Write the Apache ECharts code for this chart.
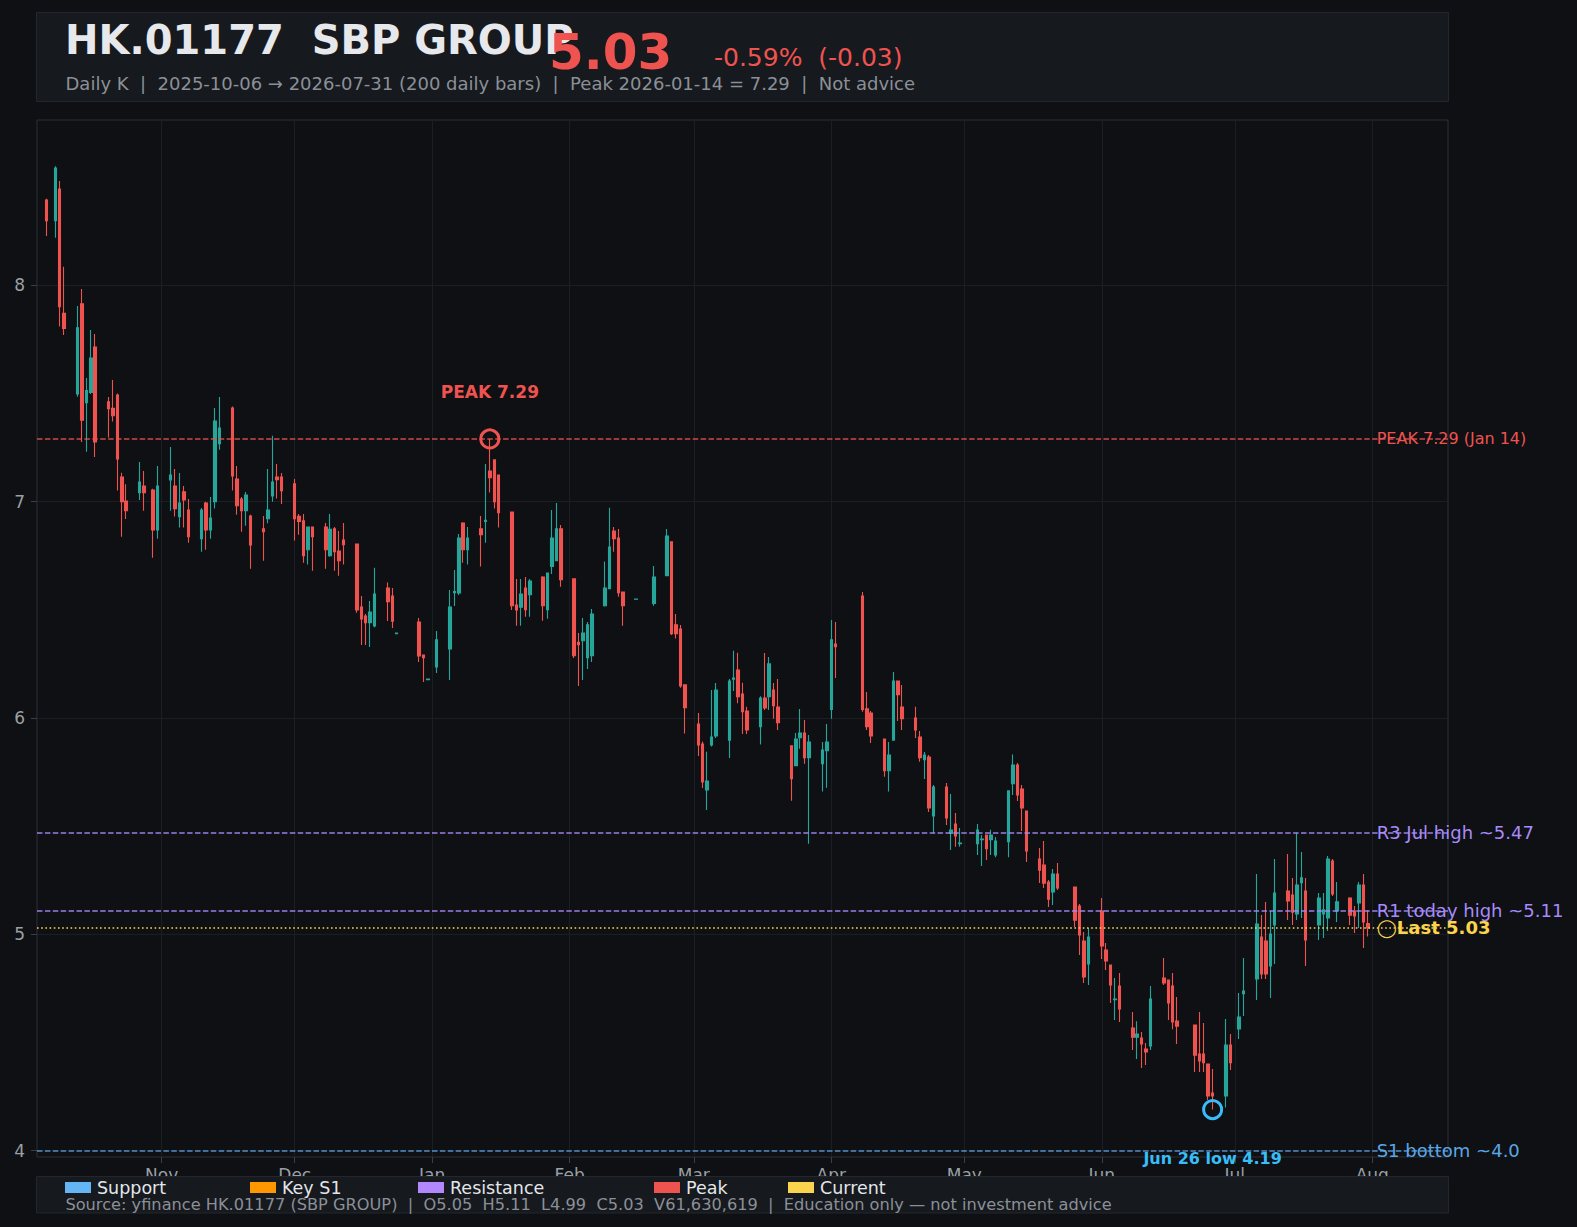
<!DOCTYPE html>
<html><head><meta charset="utf-8">
<script src="https://cdn.jsdelivr.net/npm/echarts@6/dist/echarts.min.js"></script>
<style>html,body{margin:0;padding:0;background:#0e1013;}#c{width:1577px;height:1227px;}</style>
</head><body><div id="c"></div>
<script>
const dates = [
'2025-10-06','2025-10-08','2025-10-09','2025-10-10','2025-10-13','2025-10-14','2025-10-15','2025-10-16','2025-10-17','2025-10-20','2025-10-21','2025-10-22','2025-10-23','2025-10-24','2025-10-27','2025-10-28','2025-10-30','2025-10-31',
'2025-11-03','2025-11-04','2025-11-05','2025-11-06','2025-11-07','2025-11-10','2025-11-11','2025-11-12','2025-11-13','2025-11-14','2025-11-17','2025-11-18','2025-11-19','2025-11-20','2025-11-21','2025-11-24','2025-11-25','2025-11-26','2025-11-27','2025-11-28',
'2025-12-01','2025-12-02','2025-12-03','2025-12-04','2025-12-05','2025-12-08','2025-12-09','2025-12-10','2025-12-11','2025-12-12','2025-12-15','2025-12-16','2025-12-17','2025-12-18','2025-12-19','2025-12-22','2025-12-23','2025-12-24','2025-12-29','2025-12-30','2025-12-31',
'2026-01-02','2026-01-05','2026-01-06','2026-01-07','2026-01-08','2026-01-09','2026-01-12','2026-01-13','2026-01-14','2026-01-15','2026-01-16','2026-01-19','2026-01-20','2026-01-21','2026-01-22','2026-01-23','2026-01-26','2026-01-27','2026-01-28','2026-01-29','2026-01-30',
'2026-02-02','2026-02-03','2026-02-04','2026-02-05','2026-02-06','2026-02-09','2026-02-10','2026-02-11','2026-02-12','2026-02-13','2026-02-16','2026-02-20','2026-02-23','2026-02-24','2026-02-25','2026-02-26','2026-02-27',
'2026-03-02','2026-03-03','2026-03-04','2026-03-05','2026-03-06','2026-03-09','2026-03-10','2026-03-11','2026-03-12','2026-03-13','2026-03-16','2026-03-17','2026-03-18','2026-03-19','2026-03-20','2026-03-23','2026-03-24','2026-03-25','2026-03-26','2026-03-27','2026-03-30','2026-03-31',
'2026-04-01','2026-04-02','2026-04-08','2026-04-09','2026-04-10','2026-04-13','2026-04-14','2026-04-15','2026-04-16','2026-04-17','2026-04-20','2026-04-21','2026-04-22','2026-04-23','2026-04-24','2026-04-27','2026-04-28','2026-04-29','2026-04-30',
'2026-05-04','2026-05-05','2026-05-06','2026-05-07','2026-05-08','2026-05-11','2026-05-12','2026-05-13','2026-05-14','2026-05-15','2026-05-18','2026-05-19','2026-05-20','2026-05-21','2026-05-22','2026-05-26','2026-05-27','2026-05-28','2026-05-29',
'2026-06-01','2026-06-02','2026-06-03','2026-06-04','2026-06-05','2026-06-08','2026-06-09','2026-06-10','2026-06-11','2026-06-12','2026-06-15','2026-06-16','2026-06-17','2026-06-18','2026-06-22','2026-06-23','2026-06-24','2026-06-25','2026-06-26','2026-06-29','2026-06-30',
'2026-07-02','2026-07-03','2026-07-06','2026-07-07','2026-07-08','2026-07-09','2026-07-10','2026-07-13','2026-07-14','2026-07-15','2026-07-16','2026-07-17','2026-07-20','2026-07-21','2026-07-22','2026-07-23','2026-07-24','2026-07-27','2026-07-28','2026-07-29','2026-07-30','2026-07-31'
];
const opens = [
8.394,8.299,8.445,7.870,7.498,7.914,7.457,7.505,7.715,7.461,7.431,7.493,7.114,7.003,7.041,7.072,7.054,6.869,
7.100,7.072,6.931,7.045,6.961,6.829,6.994,6.869,7.000,7.268,7.433,7.105,7.012,6.958,6.934,6.874,6.921,7.026,7.114,7.114,
7.082,6.932,6.911,6.778,6.883,6.883,6.750,6.874,6.772,6.823,6.804,6.513,6.471,6.441,6.425,6.601,6.564,6.390,6.444,6.291,6.177,
6.236,6.319,6.579,6.578,6.901,6.778,6.874,6.908,7.142,7.193,7.123,6.952,6.522,6.512,6.601,6.570,6.652,6.501,6.700,6.727,6.874,
6.643,6.350,6.357,6.279,6.288,6.519,6.598,6.864,6.832,6.582,6.549,6.529,6.658,6.814,6.431,6.411,6.153,
5.972,5.880,5.667,5.875,5.917,5.898,6.179,6.222,6.111,6.032,5.960,6.092,6.099,6.129,6.051,5.871,5.780,5.909,5.931,5.817,5.789,5.849,
6.039,6.342,6.564,6.042,6.023,5.903,5.756,5.898,6.171,6.051,6.000,5.912,5.807,5.820,5.547,5.681,5.467,5.510,5.419,
5.419,5.438,5.459,5.438,5.367,5.428,5.696,5.783,5.672,5.570,5.348,5.320,5.242,5.196,5.279,5.219,5.131,4.969,4.863,
5.108,4.928,4.858,4.698,4.761,4.567,4.525,4.521,4.470,4.484,4.798,4.789,4.761,4.599,4.581,4.447,4.447,4.401,4.267,4.253,4.488,
4.563,4.726,4.794,4.988,4.969,4.854,5.043,5.200,5.182,5.094,5.239,5.200,5.043,5.094,5.076,5.339,5.108,5.168,5.108,5.145,5.228,5.05
];
const closes = [
8.299,8.542,7.901,7.801,7.804,7.377,7.513,7.664,7.276,7.430,7.397,7.197,7.000,6.958,7.091,7.041,6.869,7.072,
7.123,6.968,6.994,7.008,6.838,6.961,6.869,6.924,7.373,7.340,7.119,6.981,6.958,7.031,6.800,6.861,6.961,7.091,7.102,7.051,
6.921,6.908,6.750,6.883,6.838,6.778,6.872,6.769,6.727,6.801,6.499,6.458,6.441,6.490,6.573,6.538,6.448,6.393,6.287,6.279,6.180,
6.361,6.513,6.584,6.832,6.778,6.832,6.847,6.914,7.111,7.000,6.949,6.519,6.499,6.573,6.501,6.633,6.519,6.670,6.832,6.874,6.639,
6.288,6.339,6.393,6.431,6.481,6.601,6.790,6.829,6.579,6.519,6.550,6.652,6.841,6.390,6.390,6.148,6.048,
5.875,5.704,5.709,5.912,6.129,6.171,6.185,6.099,6.029,5.945,6.092,6.046,6.250,6.057,5.978,5.720,5.903,5.931,5.817,5.889,5.852,5.889,
6.361,6.330,6.039,5.960,5.917,5.756,5.829,6.171,6.108,5.997,5.945,5.817,5.829,5.584,5.681,5.538,5.482,5.455,5.422,
5.482,5.441,5.396,5.459,5.431,5.663,5.783,5.644,5.584,5.385,5.297,5.237,5.163,5.279,5.214,5.066,4.997,4.803,4.988,
4.946,4.877,4.766,4.701,4.655,4.525,4.539,4.493,4.456,4.701,4.775,4.683,4.595,4.576,4.442,4.415,4.407,4.253,4.253,4.488,4.407,
4.618,4.738,5.048,4.817,4.817,5.002,5.191,5.154,5.103,5.228,5.261,4.974,5.168,5.113,5.348,5.187,5.150,5.089,5.085,5.228,5.057,5.03
];
const lows = [
8.228,8.220,7.809,7.770,7.485,7.276,7.231,7.498,7.206,7.297,7.370,7.051,6.838,6.920,7.008,6.958,6.741,6.829,
6.958,6.931,6.880,6.880,6.810,6.769,6.778,6.829,6.968,7.240,7.051,6.940,6.861,6.889,6.690,6.727,6.900,7.000,7.015,6.989,
6.820,6.847,6.718,6.709,6.681,6.690,6.745,6.681,6.658,6.709,6.487,6.337,6.337,6.328,6.420,6.448,6.416,6.388,6.259,6.166,6.175,
6.208,6.176,6.518,6.569,6.718,6.709,6.700,6.810,7.042,6.968,6.880,6.499,6.427,6.427,6.468,6.468,6.450,6.459,6.666,6.725,6.607,
6.277,6.148,6.176,6.227,6.259,6.515,6.595,6.769,6.561,6.427,6.547,6.519,6.655,6.384,6.367,6.140,5.928,
5.824,5.676,5.575,5.868,5.908,5.815,6.125,6.068,5.926,5.926,5.877,6.037,6.037,5.997,5.945,5.618,5.778,5.858,5.789,5.419,5.660,5.678,
5.997,6.185,6.029,5.945,5.884,5.729,5.660,5.895,5.986,5.945,5.908,5.798,5.718,5.566,5.467,5.505,5.390,5.405,5.405,
5.367,5.316,5.344,5.367,5.357,5.357,5.644,5.616,5.478,5.334,5.237,5.214,5.126,5.136,5.205,5.034,4.905,4.775,4.766,
4.886,4.835,4.683,4.604,4.595,4.465,4.424,4.382,4.396,4.465,4.766,4.604,4.562,4.493,4.364,4.364,4.364,4.234,4.19,4.20,4.373,
4.516,4.623,4.697,4.794,4.794,4.706,4.863,5.066,5.043,5.066,5.076,4.854,4.974,4.983,5.016,5.177,5.057,5.043,5.006,5.029,4.937,4.99
];
const highs = [
8.400,8.550,8.482,8.086,7.904,7.983,7.572,7.793,7.775,7.484,7.562,7.500,7.134,7.081,7.183,7.142,7.060,7.165,
7.253,7.151,7.132,7.072,7.012,6.971,7.000,7.021,7.433,7.484,7.440,7.165,7.021,7.045,6.940,6.934,7.151,7.305,7.174,7.132,
7.105,6.943,6.943,6.885,6.885,6.901,6.943,6.883,6.864,6.901,6.806,6.564,6.481,6.541,6.695,6.626,6.601,6.395,6.462,6.292,6.182,
6.402,6.592,6.684,6.851,6.905,6.883,6.934,7.174,7.29,7.195,7.125,6.955,6.643,6.643,6.652,6.643,6.655,6.672,6.961,6.994,6.892,
6.645,6.393,6.462,6.444,6.504,6.723,6.972,6.883,6.874,6.585,6.552,6.703,6.874,6.816,6.481,6.430,6.155,
6.023,5.891,5.844,6.129,6.162,6.180,6.311,6.302,6.163,6.052,6.101,6.300,6.282,6.162,6.180,5.872,5.931,6.042,5.991,5.921,5.889,5.972,
6.453,6.444,6.582,6.120,6.032,5.905,5.889,6.213,6.173,6.153,6.052,5.940,5.843,5.829,5.690,5.700,5.649,5.561,5.492,
5.510,5.459,5.462,5.484,5.450,5.665,5.831,5.792,5.690,5.572,5.399,5.431,5.251,5.302,5.330,5.221,5.140,5.011,5.029,
5.168,4.960,4.860,4.798,4.821,4.641,4.599,4.549,4.498,4.761,4.891,4.791,4.821,4.710,4.583,4.641,4.590,4.403,4.378,4.609,4.539,
4.729,4.891,5.279,5.089,5.150,5.108,5.348,5.371,5.261,5.47,5.381,5.261,5.191,5.191,5.362,5.348,5.242,5.171,5.131,5.242,5.279,5.11
];
const monthTicks = ['2025-11-01','2025-12-01','2026-01-01','2026-02-01','2026-03-01','2026-04-01','2026-05-01','2026-06-01','2026-07-01','2026-08-01'];
const monthLabels = ['Nov','Dec','Jan','Feb','Mar','Apr','May','Jun','Jul','Aug'];
const yTicks = [4, 5, 6, 7, 8];
const xRange = ['2025-10-03 21:00', '2026-08-18 02:00'];
const yRange = [3.971, 8.764];
const peakPoint = ['2026-01-14', 7.29];
const lowPoint = ['2026-06-26', 4.19];
const levelLabelDate = '2026-08-02';
const peakLevel = 7.29, r3Level = 5.47, r1Level = 5.11, lastLevel = 5.03, s1Level = 4.0;
const levelTexts = ['PEAK 7.29 (Jan 14)', 'R3 Jul high ~5.47', 'R1 today high ~5.11', 'Last 5.03', 'S1 bottom ~4.0'];
const legendNames = ['Support', 'Key S1', 'Resistance', 'Peak', 'Current'];
const titleText = 'HK.01177  SBP GROUP';
const priceText = '5.03';
const changeText = '-0.59%  (-0.03)';
const subtitleText = 'Daily K  |  2025-10-06 \u2192 2026-07-31 (200 daily bars)  |  Peak 2026-01-14 = 7.29  |  Not advice';
const sourceText = 'Source: yfinance HK.01177 (SBP GROUP)  |  O5.05  H5.11  L4.99  C5.03  V61,630,619  |  Education only \u2014 not investment advice';

const FONT = 'DejaVu Sans';
const UP = '#26a69a', DOWN = '#ef5350', RED = '#ef5350', PURPLE = '#a78bfa', YELLOW = '#fcd34d', SBLUE = '#5aa6e6', LBLUE = '#38bdf8';
function ts(s) {
  const p = s.split(/[- :]/).map(Number);
  return Date.UTC(p[0], p[1] - 1, p[2], p[3] || 0, p[4] || 0);
}
const monthTs = monthTicks.map(ts);
const candleData = dates.map((d, i) => [ts(d), opens[i], closes[i], lows[i], highs[i]]);

const chart = echarts.init(document.getElementById('c'), null, {renderer: 'svg', width: 1577, height: 1227});

const labelBase = {show: true, position: 'inside', align: 'left', verticalAlign: 'middle', fontFamily: FONT, fontSize: 18};
const levelData = [
  {value: [ts(levelLabelDate), peakLevel], label: Object.assign({}, labelBase, {formatter: levelTexts[0], color: RED, fontSize: 16})},
  {value: [ts(levelLabelDate), r3Level], label: Object.assign({}, labelBase, {formatter: levelTexts[1], color: PURPLE})},
  {value: [ts(levelLabelDate), r1Level], label: Object.assign({}, labelBase, {formatter: levelTexts[2], color: PURPLE})},
  {value: [ts(levelLabelDate), lastLevel], label: Object.assign({}, labelBase, {formatter: '{c|\u25EF}' + levelTexts[3], color: YELLOW, fontWeight: 'bold', rich: {c: {fontFamily: FONT, fontSize: 18, fontWeight: 'normal', color: YELLOW}}})},
  {value: [ts(levelLabelDate), s1Level], label: Object.assign({}, labelBase, {formatter: levelTexts[4], color: SBLUE})}
];

const swatchColors = ['#64b5f6', '#ff9800', '#b388ff', '#ef5350', '#fcd34d'];
const swatchX = [65, 250, 418, 654, 788];
const graphics = [
  {type: 'rect', z: 100, shape: {x: 36.5, y: 12.5, width: 1412, height: 89}, style: {fill: '#16191d', stroke: '#23272d', lineWidth: 1}},
  {type: 'text', z: 101, x: 65, y: 40, style: {text: titleText, font: 'bold 40px "DejaVu Sans"', fill: '#e6e8eb', textAlign: 'left', textVerticalAlign: 'middle', verticalAlign: 'middle'}},
  {type: 'text', z: 102, x: 549, y: 52, style: {text: priceText, font: 'bold 50px "DejaVu Sans"', fill: RED, textAlign: 'left', textVerticalAlign: 'middle', verticalAlign: 'middle'}},
  {type: 'text', z: 102, x: 714, y: 57, style: {text: changeText, font: '25px "DejaVu Sans"', fill: RED, textAlign: 'left', textVerticalAlign: 'middle', verticalAlign: 'middle'}},
  {type: 'text', z: 101, x: 65.5, y: 83, style: {text: subtitleText, font: '18px "DejaVu Sans"', fill: '#8b9098', textAlign: 'left', textVerticalAlign: 'middle', verticalAlign: 'middle'}},
  {type: 'rect', z: 100, shape: {x: 36.5, y: 1176.5, width: 1412, height: 36.5}, style: {fill: '#16191d', stroke: '#23272d', lineWidth: 1}},
  {type: 'text', z: 101, x: 65.4, y: 1204.5, style: {text: sourceText, font: '16.2px "DejaVu Sans"', fill: '#8b9098', textAlign: 'left', textVerticalAlign: 'middle', verticalAlign: 'middle'}}
];
legendNames.forEach((n, i) => {
  graphics.push({type: 'rect', z: 101, shape: {x: swatchX[i], y: 1182, width: 26, height: 11}, style: {fill: swatchColors[i]}});
  graphics.push({type: 'text', z: 101, x: swatchX[i] + 32, y: 1187.5, style: {text: n, font: '17.5px "DejaVu Sans"', fill: '#e3e6ea', textAlign: 'left', textVerticalAlign: 'middle', verticalAlign: 'middle'}});
});

const option = {
  backgroundColor: '#0e1013',
  animation: false,
  textStyle: {fontFamily: FONT},
  grid: {left: 37, right: 129, top: 120, bottom: 70, show: true, borderColor: '#2a2e34', borderWidth: 1, backgroundColor: 'transparent', containLabel: false},
  xAxis: {
    type: 'value', min: ts(xRange[0]), max: ts(xRange[1]), scale: true,
    axisLine: {show: false},
    axisTick: {show: true, length: 6, lineStyle: {color: '#3a3f46'}, customValues: monthTs},
    axisLabel: {
      customValues: monthTs, color: '#9aa0a6', fontSize: 17, fontFamily: FONT, margin: 9, hideOverlap: false,
      formatter: function (v) {
        for (let i = 0; i < monthTs.length; i++) if (Math.abs(monthTs[i] - v) < 3600000) return monthLabels[i];
        return '';
      }
    },
    splitLine: {show: true, lineStyle: {color: '#1b1e23', width: 1}}
  },
  yAxis: {
    type: 'value', min: yRange[0], max: yRange[1],
    axisLine: {show: false},
    axisTick: {show: true, length: 6, lineStyle: {color: '#3a3f46'}, customValues: yTicks},
    axisLabel: {customValues: yTicks, color: '#9aa0a6', fontSize: 17, fontFamily: FONT, margin: 12},
    splitLine: {show: true, lineStyle: {color: '#1b1e23', width: 1}}
  },
  series: [
    {
      type: 'candlestick',
      dimensions: ['date', 'open', 'close', 'lowest', 'highest'],
      encode: {x: 'date', y: ['open', 'close', 'lowest', 'highest']},
      data: candleData,
      barWidth: 3,
      itemStyle: {color: UP, color0: DOWN, borderColor: UP, borderColor0: DOWN, borderWidth: 1.1},
      markLine: {
        silent: true, symbol: ['none', 'none'], label: {show: false}, animation: false,
        data: [
          {yAxis: peakLevel, lineStyle: {color: RED, type: [5.5, 2.4], width: 1.5, opacity: 0.85}},
          {yAxis: r3Level, lineStyle: {color: PURPLE, type: [5.5, 2.4], width: 1.5, opacity: 0.9}},
          {yAxis: r1Level, lineStyle: {color: PURPLE, type: [5.5, 2.4], width: 1.5, opacity: 0.9}},
          {yAxis: lastLevel, lineStyle: {color: YELLOW, type: [1.6, 2.6], width: 1.7, opacity: 1}},
          {yAxis: s1Level, lineStyle: {color: SBLUE, type: [5.5, 2.4], width: 1.5, opacity: 0.85}}
        ]
      },
      z: 3
    },
    {
      type: 'scatter', z: 5, silent: true,
      symbol: 'circle', symbolSize: 18,
      itemStyle: {color: 'rgba(0,0,0,0)', borderColor: RED, borderWidth: 3, opacity: 1},
      label: {show: true, position: 'inside', offset: [0, -47], formatter: 'PEAK ' + peakPoint[1].toFixed(2), color: RED, fontWeight: 'bold', fontSize: 17, fontFamily: FONT, opacity: 1},
      data: [[ts(peakPoint[0]), peakPoint[1]]]
    },
    {
      type: 'scatter', z: 5, silent: true,
      symbol: 'circle', symbolSize: 18,
      itemStyle: {color: 'rgba(0,0,0,0)', borderColor: LBLUE, borderWidth: 3, opacity: 1},
      label: {show: true, position: 'inside', offset: [0, 49], formatter: 'Jun 26 low ' + lowPoint[1].toFixed(2), color: LBLUE, fontWeight: 'bold', fontSize: 16, fontFamily: FONT, opacity: 1},
      data: [[ts(lowPoint[0]), lowPoint[1]]]
    },
    {
      type: 'scatter', z: 4, silent: true,
      symbolSize: 1, itemStyle: {color: 'rgba(0,0,0,0)', opacity: 1},
      data: levelData
    }
  ],
  graphic: {elements: graphics}
};
chart.setOption(option);
</script>
</body></html>
